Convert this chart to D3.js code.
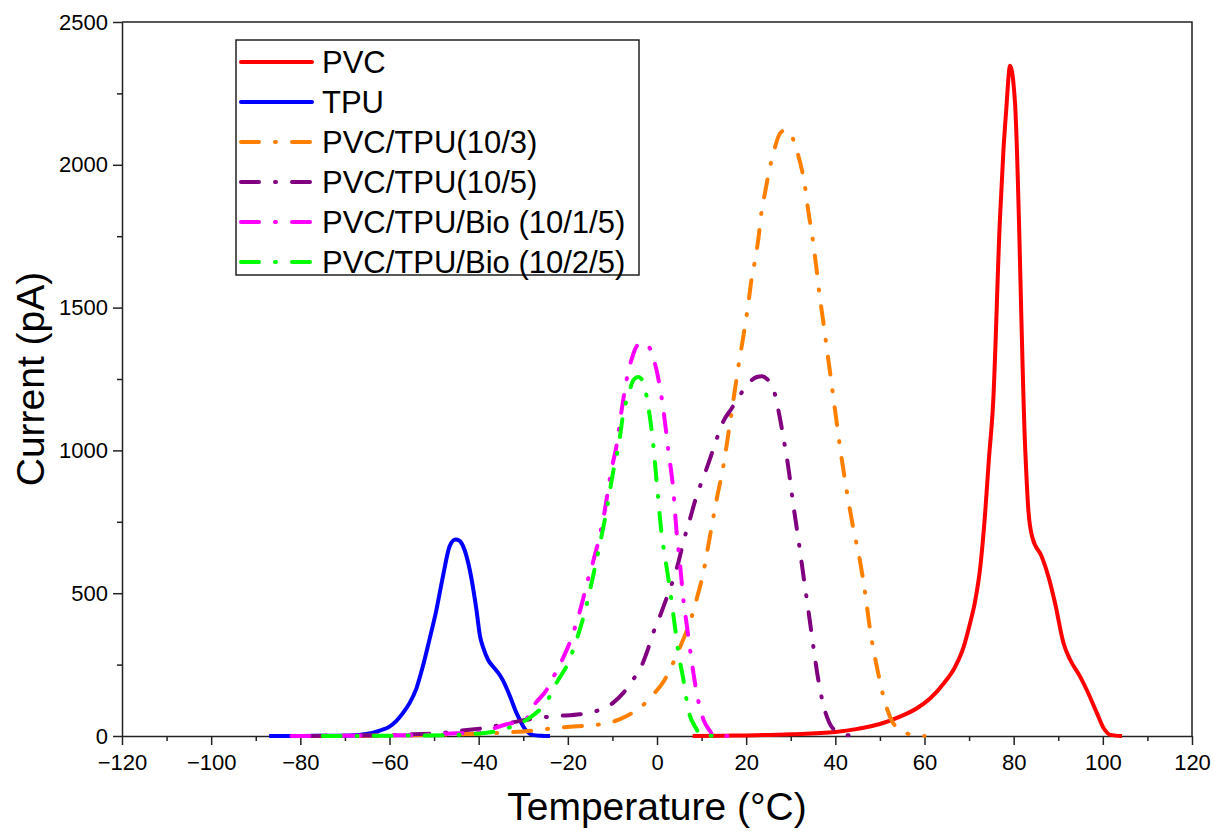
<!DOCTYPE html>
<html><head><meta charset="utf-8">
<script src="https://cdn.jsdelivr.net/npm/d3@7"></script>
<style>
body{margin:0;background:#fff}
svg{display:block}
text{font-family:"Liberation Sans",Arial,Helvetica,sans-serif}
</style>
</head><body>
<svg id="chart" width="1214" height="831"></svg>
<script>
// ---- data (Temperature °C, Current pA) ----
const seriesNames = ["PVC", "TPU", "PVC/TPU(10/3)", "PVC/TPU(10/5)", "PVC/TPU/Bio (10/1/5)", "PVC/TPU/Bio (10/2/5)"];
const seriesColors = ["#ff0000", "#0000ff", "#ff8000", "#800080", "#ff00ff", "#00ff00"];
const seriesDashed = [false, false, true, true, true, true];

const pvc = [[8,0],[15,1],[20,2],[30,6],[40,14],[45,25],[50,42],[54.5,68],[58.3,97],[61.3,132],[64.3,184],[66.9,243],[68.8,313],[70.2,394],[71.4,476],[72.5,590],[73.6,780],[74.4,960],[75.4,1168],[76.9,1803],[77.7,2050],[78.3,2185],[79.2,2347],[80.3,2217],[82.6,1001],[83.3,790],[84.2,695],[86.3,628],[87.8,558],[89.3,464],[91.2,324],[92.7,266],[94.9,208],[96.4,161],[98.7,79],[100.2,27],[101.7,4],[104.3,0]];

const tpu = [[-87,0],[-80,0],[-75,1],[-69,2],[-65.2,7],[-62,20],[-60,33],[-58.5,52],[-57,80],[-55.5,115],[-54,165],[-52.5,245],[-51,340],[-49.5,440],[-48,560],[-46.5,665],[-45.2,688],[-44.3,684],[-43.5,665],[-42,582],[-40.5,442],[-39.7,350],[-39,310],[-37.9,267],[-36.5,238],[-35.2,212],[-34.5,193],[-33,140],[-31.5,80],[-30.5,48],[-30,33],[-29.2,17],[-28.5,8],[-27.7,3],[-26,1],[-24,0]];

const pvcTpu103 = [[-78,0],[-60,2],[-45,6],[-38,9],[-33,13],[-27.8,19],[-23.3,27],[-19.5,32],[-15,37],[-10.5,47],[-6.8,70],[-3.8,99],[-0.8,146],[1.8,199],[4,269],[5.9,339],[7.4,398],[8.9,480],[10.4,573],[11.9,702],[13.4,830],[14.9,947],[16.4,1099],[18.3,1298],[19.6,1422],[20.5,1515],[21.2,1600],[22,1667],[22.7,1737],[23.5,1842],[24.2,1900],[25.2,1982],[26.1,2040],[27.6,2110],[28.8,2122],[29.7,2116],[31.3,2052],[32.5,1982],[33.2,1923],[33.9,1842],[34.9,1743],[35.8,1632],[36.5,1540],[37.3,1450],[38.1,1357],[39.6,1181],[41.1,1006],[42.6,854],[44,730],[45.5,616],[46.7,500],[47.8,371],[49.3,243],[50.8,138],[52.6,56],[54.5,21],[56,9],[58,3],[60,0]];

const pvcTpu105 = [[-78,0],[-70,1],[-62,2],[-54.7,6],[-47.2,12],[-42.7,21],[-38.2,29],[-34.5,41],[-30.7,53],[-26.2,64],[-22.5,70],[-17.3,76],[-13.5,88],[-9.8,117],[-7.5,152],[-5.3,199],[-3.8,234],[-2.3,292],[-0.8,363],[0.7,421],[2.2,485],[3.7,550],[4.8,608],[5.9,678],[7.4,760],[8.9,842],[10.4,905],[11.9,971],[13.4,1041],[14.8,1099],[16.7,1146],[18.6,1193],[20.1,1228],[22.4,1257],[23.5,1260],[24.6,1251],[26.1,1216],[27.3,1135],[28.4,1041],[29.5,936],[30.6,807],[31.8,680],[32.9,555],[34,435],[35.1,310],[36.2,195],[37.3,110],[38.6,48],[40.3,15],[42,5],[45,0]];

const bio105 = [[-82,0],[-70,1],[-62,2],[-54.7,3],[-47.2,8],[-39.7,14],[-37.4,23],[-33.7,41],[-30.5,52],[-29.2,62],[-27.7,105],[-24.7,163],[-23.3,205],[-21.4,262],[-19.5,330],[-18.4,380],[-16.9,460],[-15.8,530],[-14.2,618],[-12.7,712],[-12,765],[-10.2,934],[-9.1,1015],[-7.9,1144],[-6.8,1249],[-5.7,1319],[-4.2,1371],[-2.8,1377],[-1.6,1357],[-0.1,1281],[1.4,1146],[2.5,1006],[3.7,854],[4.4,713],[5.2,596],[5.9,480],[6.7,386],[7.4,304],[8.9,152],[10.4,58],[11.9,17],[12.6,3],[16,0]];

const bio205 = [[-75,0],[-60,1],[-47.2,3],[-39.7,9],[-36,17],[-32.2,35],[-28.5,64],[-25.9,99],[-24,140],[-22.5,187],[-19.9,257],[-18,339],[-16.1,440],[-14.2,570],[-12.7,680],[-11.2,800],[-9.7,936],[-8.6,1018],[-7.5,1135],[-6.4,1193],[-5.3,1246],[-4.2,1257],[-3.1,1240],[-2,1158],[-0.9,1029],[0,877],[1,713],[2.1,596],[2.9,515],[3.7,421],[4.8,292],[5.9,199],[7,94],[8.9,23],[9.6,3],[15,0]];

const seriesData = [pvc, tpu, pvcTpu103, pvcTpu105, bio105, bio205];

const xMajorTicks = [-120,-100,-80,-60,-40,-20,0,20,40,60,80,100,120];
const xMinorTicks = [-110,-90,-70,-50,-30,-10,10,30,50,70,90,110];
const yMajorTicks = [0,500,1000,1500,2000,2500];
const yMinorTicks = [250,750,1250,1750,2250];
const xTitle = "Temperature (°C)";
const yTitle = "Current (pA)";

// ---- drawing ----
const svg = d3.select("#chart");
const L = 122, R = 1192, T = 22, B = 736;
const x = d3.scaleLinear().domain([-120, 120]).range([L, R]);
const y = d3.scaleLinear().domain([0, 2500]).range([B, T]);
const axisColor = "#222";

const fmt = d => d < 0 ? "\u2212" + Math.abs(d) : String(d);

// minor ticks
svg.append("g").attr("transform", `translate(0,${B})`)
  .call(d3.axisBottom(x).tickValues(xMinorTicks).tickSize(5).tickSizeOuter(0).tickFormat(""))
  .call(g => g.select(".domain").remove())
  .call(g => g.selectAll("line").attr("stroke", axisColor).attr("stroke-width", 1.5));
svg.append("g").attr("transform", `translate(${L},0)`)
  .call(d3.axisLeft(y).tickValues(yMinorTicks).tickSize(5).tickSizeOuter(0).tickFormat(""))
  .call(g => g.select(".domain").remove())
  .call(g => g.selectAll("line").attr("stroke", axisColor).attr("stroke-width", 1.5));

// major axes
const gx = svg.append("g").attr("transform", `translate(0,${B})`)
  .call(d3.axisBottom(x).tickValues(xMajorTicks).tickSize(9).tickSizeOuter(0).tickPadding(9).tickFormat(fmt));
const gy = svg.append("g").attr("transform", `translate(${L},0)`)
  .call(d3.axisLeft(y).tickValues(yMajorTicks).tickSize(9).tickSizeOuter(0).tickPadding(5).tickFormat(fmt));
[gx, gy].forEach(g => {
  g.select(".domain").attr("stroke", axisColor).attr("stroke-width", 1.5);
  g.selectAll(".tick line").attr("stroke", axisColor).attr("stroke-width", 1.5);
  g.selectAll(".tick text").attr("fill", "#000").style("font-size", "22px")
    .style("font-family", '"Liberation Sans",Arial,sans-serif');
});

// frame (top and right)
svg.append("path")
  .attr("d", `M${L},${T}H${R}V${B}`)
  .attr("fill", "none").attr("stroke", axisColor).attr("stroke-width", 1.5);

// axis titles
svg.append("text").attr("x", (L + R) / 2).attr("y", 820)
  .attr("text-anchor", "middle").style("font-size", "39px").attr("fill", "#000").text(xTitle);
svg.append("text").attr("transform", `translate(44,${(T + B) / 2}) rotate(-90)`)
  .attr("text-anchor", "middle").style("font-size", "39px").attr("fill", "#000").text(yTitle);

// curves
const dashPattern = "18,16,1,16";
const line = d3.line().x(d => x(d[0])).y(d => y(d[1])).curve(d3.curveMonotoneX);
seriesData.forEach((data, i) => {
  svg.append("path").datum(data)
    .attr("d", line)
    .attr("fill", "none")
    .attr("stroke", seriesColors[i])
    .attr("stroke-width", 4)
    .attr("stroke-linejoin", "round")
    .attr("stroke-linecap", seriesDashed[i] ? "round" : "butt")
    .attr("stroke-dasharray", seriesDashed[i] ? dashPattern : null);
});

// legend
const lg = svg.append("g");
lg.append("rect").attr("x", 236).attr("y", 40).attr("width", 403).attr("height", 235)
  .attr("fill", "#fff").attr("stroke", axisColor).attr("stroke-width", 1.5);
seriesNames.forEach((name, i) => {
  const cy = 62 + i * 40;
  lg.append("line").attr("x1", 241).attr("x2", 312).attr("y1", cy).attr("y2", cy)
    .attr("stroke", seriesColors[i]).attr("stroke-width", 4)
    .attr("stroke-linecap", "round")
    .attr("stroke-dasharray", seriesDashed[i] ? dashPattern : null);
  lg.append("text").attr("x", 322).attr("y", cy).attr("dy", "0.35em")
    .style("font-size", "31px").attr("fill", "#000").text(name);
});
</script>
</body></html>
